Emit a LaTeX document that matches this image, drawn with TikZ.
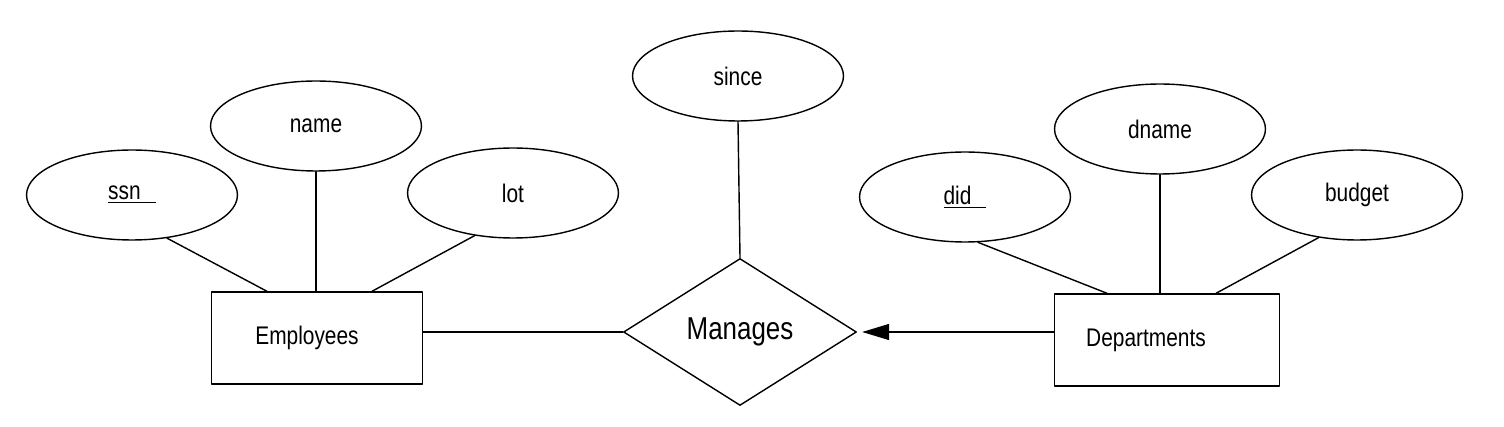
\documentclass[tikz,border=0pt]{standalone}
\usepackage{fontspec}
\newfontfamily\erfont{Liberation Sans}[FakeStretch=0.82]
\usepackage{tikz}
\usetikzlibrary{arrows.meta,shapes.geometric}

\begin{document}
\begin{tikzpicture}[line cap=round,line join=round,>={Triangle[length=0.54cm,width=0.32cm]},x=0.02cm,y=0.02cm,
  attr/.style={draw,ellipse,line width=0.8pt,inner sep=0pt,minimum width=4.22cm,minimum height=1.8cm,font=\erfont\fontsize{14.5}{17}\selectfont},
  entity/.style={draw,rectangle,line width=0.8pt,inner sep=0pt,minimum height=1.84cm,font=\erfont\fontsize{14.5}{17}\selectfont},
  rel/.style={draw,diamond,aspect=1.585,line width=0.8pt,inner sep=0pt,minimum width=4.66cm,minimum height=2.94cm,font=\erfont\fontsize{18}{21}\selectfont},
  conn/.style={line width=0.8pt}]
\useasboundingbox (0,0) rectangle (1504,426);
\node[attr] (ssn) at (132,231) {\underline{ssn\hspace{0.3cm}}};
\node[attr] (name) at (316,300) {name};
\node[attr] (lot) at (513,233) {lot};
\node[entity,minimum width=4.22cm] (emp) at (317,88) {Employees\hspace{0.4cm}\mbox{}};
\node[attr] (since) at (738,350) {since};
\node[rel] (man) at (740,94) {Manages};
\node[attr] (did) at (965,229) {\underline{did\hspace{0.3cm}}};
\node[attr] (dname) at (1160,297) {dname};
\node[attr] (budget) at (1357,231) {budget};
\node[entity,minimum width=4.5cm] (dept) at (1167,86) {Departments\hspace{0.84cm}\mbox{}};
\draw[conn] (ssn.-51) -- ([xshift=-1cm]emp.north);
\draw[conn] (name.south) -- (name.south |- emp.north);
\draw[conn] (lot.-132) -- ([xshift=1.1cm]emp.north);
\draw[conn] (since.south) -- (man.north);
\draw[conn] (man.west) -- (man.west -| emp.east);
\draw[conn,->,shorten >=0.1cm] (man.east -| dept.west) -- (man.east);
\draw[conn] (did.-74) -- ([xshift=-1.2cm]dept.north);
\draw[conn] (dname.south) -- (dname.south |- dept.north);
\draw[conn] (budget.-132) -- ([xshift=0.98cm]dept.north);
\end{tikzpicture}
\end{document}
